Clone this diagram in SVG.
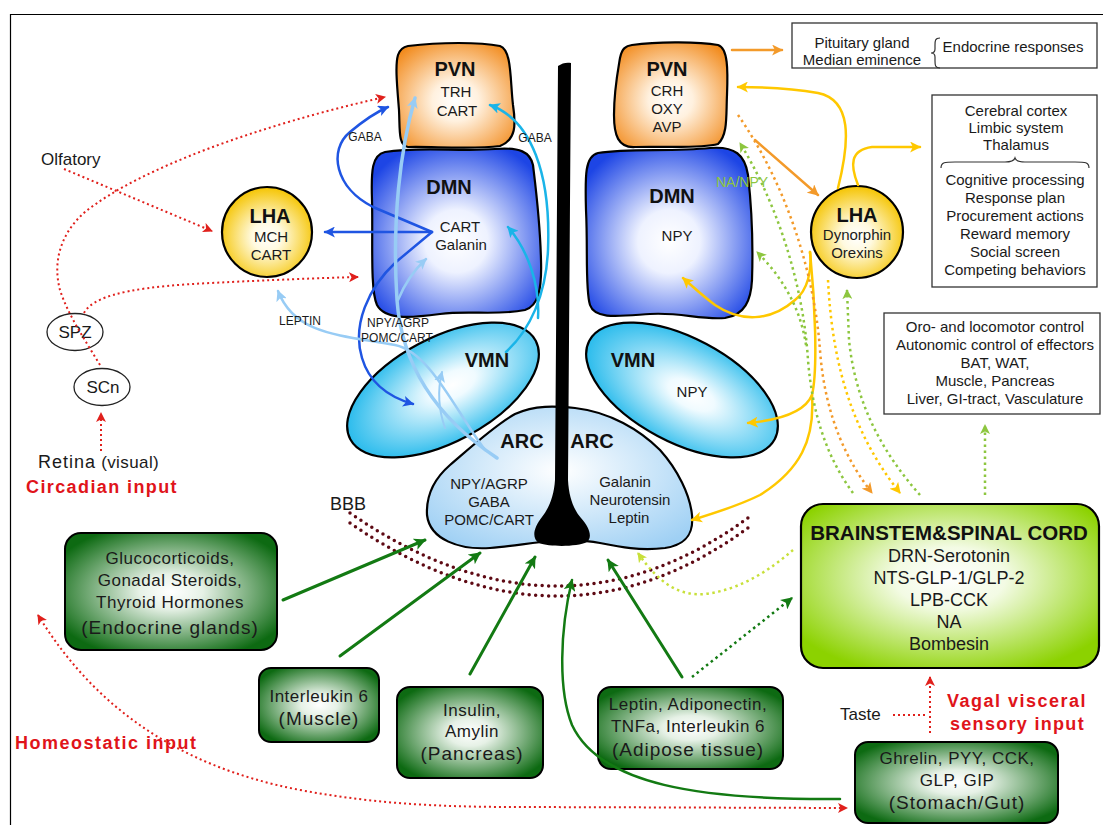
<svg xmlns="http://www.w3.org/2000/svg" width="1103" height="825" viewBox="0 0 1103 825">
<style>
text{font-family:"Liberation Sans",Arial,sans-serif;fill:#1a1a1a;text-anchor:middle}
.ttl{font-weight:bold;font-size:20px;fill:#111}
.s15{font-size:15px}
.s12{font-size:12px}
.b17{font-size:17px;letter-spacing:0.5px}
.b19{font-size:19px;letter-spacing:1px}
.red{font-weight:bold;font-size:18px;fill:#e0141a;text-anchor:start;letter-spacing:1.4px}
.shape{stroke:#000;stroke-width:2.2}
.box{fill:#fff;stroke:#333;stroke-width:1.3}
.c{fill:none;stroke-linecap:round}
.rd{stroke:#e0201c;stroke-width:2;stroke-dasharray:2 3;stroke-linecap:butt;fill:none}
.db{stroke:#1f55e2;stroke-width:2.5}
.lb{stroke:#98ccf5;stroke-width:2.5}
.cy{stroke:#1ab4e8;stroke-width:2.5}
.or{stroke:#f39a2a;stroke-width:2.5}
.ye{stroke:#ffc800;stroke-width:2.5}
.gs{stroke:#137a13;stroke-width:3}
.dot{fill:none;stroke-width:2.5;stroke-dasharray:2.5 3.5;stroke-linecap:butt}
.bbb{fill:none;stroke:#5e0a14;stroke-width:3.5;stroke-dasharray:0 6.5;stroke-linecap:round}
</style>
<defs>
<radialGradient id="gOr" cx="50%" cy="55%" r="65%"><stop offset="0" stop-color="#ffffff"/><stop offset="0.3" stop-color="#fff1df"/><stop offset="1" stop-color="#f28b1d"/></radialGradient>
<radialGradient id="gBl" cx="50%" cy="55%" r="62%"><stop offset="0" stop-color="#ffffff"/><stop offset="0.3" stop-color="#eef2ff"/><stop offset="1" stop-color="#1d45e5"/></radialGradient>
<radialGradient id="gCy" cx="55%" cy="50%" r="60%"><stop offset="0" stop-color="#ffffff"/><stop offset="0.2" stop-color="#f0fbff"/><stop offset="1" stop-color="#13b4ea"/></radialGradient>
<radialGradient id="gArc" cx="50%" cy="45%" r="65%"><stop offset="0" stop-color="#ffffff"/><stop offset="1" stop-color="#9fd0f4"/></radialGradient>
<radialGradient id="gYe" cx="50%" cy="55%" r="55%"><stop offset="0" stop-color="#ffffff"/><stop offset="0.3" stop-color="#fffae0"/><stop offset="1" stop-color="#f5c400"/></radialGradient>
<radialGradient id="gGr" cx="50%" cy="50%" r="60%"><stop offset="0" stop-color="#ffffff"/><stop offset="0.25" stop-color="#e6f1e6"/><stop offset="1" stop-color="#0d6a12"/></radialGradient>
<radialGradient id="gLi" cx="50%" cy="45%" r="62%"><stop offset="0" stop-color="#ffffff"/><stop offset="0.3" stop-color="#f3fbe4"/><stop offset="1" stop-color="#8cd200"/></radialGradient>
<marker id="mRed" viewBox="0 0 10 10" refX="9" refY="5" markerWidth="10" markerHeight="10" markerUnits="userSpaceOnUse" orient="auto-start-reverse"><path d="M0,0 L10,5 L0,10 L2.5,5 z" fill="#e0201c"/></marker>
<marker id="mDb" viewBox="0 0 10 10" refX="9" refY="5" markerWidth="11" markerHeight="11" markerUnits="userSpaceOnUse" orient="auto"><path d="M0,0 L10,5 L0,10 L2.5,5 z" fill="#1f55e2"/></marker>
<marker id="mLb" viewBox="0 0 10 10" refX="9" refY="5" markerWidth="11" markerHeight="11" markerUnits="userSpaceOnUse" orient="auto"><path d="M0,0 L10,5 L0,10 L2.5,5 z" fill="#98ccf5"/></marker>
<marker id="mCy" viewBox="0 0 10 10" refX="9" refY="5" markerWidth="11" markerHeight="11" markerUnits="userSpaceOnUse" orient="auto"><path d="M0,0 L10,5 L0,10 L2.5,5 z" fill="#1ab4e8"/></marker>
<marker id="mOr" viewBox="0 0 10 10" refX="9" refY="5" markerWidth="11" markerHeight="11" markerUnits="userSpaceOnUse" orient="auto"><path d="M0,0 L10,5 L0,10 L2.5,5 z" fill="#f39a2a"/></marker>
<marker id="mYe" viewBox="0 0 10 10" refX="9" refY="5" markerWidth="11" markerHeight="11" markerUnits="userSpaceOnUse" orient="auto"><path d="M0,0 L10,5 L0,10 L2.5,5 z" fill="#ffc800"/></marker>
<marker id="mGn" viewBox="0 0 10 10" refX="9" refY="5" markerWidth="10" markerHeight="10" markerUnits="userSpaceOnUse" orient="auto"><path d="M0,0 L10,5 L0,10 L2.5,5 z" fill="#8dc63f"/></marker>
<marker id="mLg" viewBox="0 0 10 10" refX="9" refY="5" markerWidth="10" markerHeight="10" markerUnits="userSpaceOnUse" orient="auto"><path d="M0,0 L10,5 L0,10 L2.5,5 z" fill="#c8e03a"/></marker>
<marker id="mDg" viewBox="0 0 10 10" refX="9" refY="5" markerWidth="12" markerHeight="12" markerUnits="userSpaceOnUse" orient="auto"><path d="M0,0 L10,5 L0,10 L2.5,5 z" fill="#137a13"/></marker>
</defs>
<rect width="1103" height="825" fill="#fff"/>
<path d="M10.5,825 V14.5 H1103" fill="none" stroke="#000" stroke-width="1.2"/>

<g id="pvn-left"><path class="shape" fill="url(#gOr)" d="M408,46 C440,42 480,42 500,46 C512,50 510,80 513,105 C516,125 516,140 500,146 C470,150 430,146 408,147 C398,145 400,130 399,110 C397,85 395,65 398,55 C400,49 403,47 408,46 Z"/>
<text x="455" y="76" class="ttl">PVN</text><text x="456" y="97" class="s15">TRH</text><text x="457" y="116" class="s15">CART</text></g>

<g id="pvn-right"><path class="shape" fill="url(#gOr)" d="M632,45 C660,41 700,42 718,45 C728,48 728,70 727,95 C726,115 728,135 718,144 C700,149 660,146 635,147 C618,148 614,135 614,115 C614,90 618,70 620,58 C622,48 626,46 632,45 Z"/>
<text x="667" y="76" class="ttl">PVN</text><text x="667" y="96" class="s15">CRH</text><text x="667" y="114" class="s15">OXY</text><text x="667" y="132" class="s15">AVP</text></g>

<g id="dmn-left"><path class="shape" fill="url(#gBl)" d="M385,152 C420,146 460,152 495,149 C520,147 530,152 533,165 C536,190 540,220 541,260 C542,290 538,306 525,310 C495,316 470,310 440,314 C410,318 385,320 377,305 C370,290 373,240 372,200 C371,170 372,155 385,152 Z"/>
<text x="449" y="194" class="ttl">DMN</text><text x="460" y="232" class="s15">CART</text><text x="461" y="250" class="s15">Galanin</text></g>

<g id="dmn-right"><path class="shape" fill="url(#gBl)" d="M598,153 C630,148 670,152 710,148 C735,146 745,155 748,175 C752,210 753,250 752,280 C751,300 745,315 725,318 C700,320 680,312 650,314 C620,316 595,320 590,305 C585,290 588,250 586,210 C585,175 585,156 598,153 Z"/>
<text x="672" y="203" class="ttl">DMN</text><text x="677" y="241" class="s15">NPY</text></g>

<g id="vmn-left"><ellipse class="shape" fill="url(#gCy)" cx="443" cy="390" rx="105" ry="52" transform="rotate(-28 443 390)"/>
<text x="487" y="367" class="ttl">VMN</text></g>

<g id="vmn-right"><ellipse class="shape" fill="url(#gCy)" cx="682" cy="390" rx="105" ry="52" transform="rotate(28 682 390)"/>
<text x="633" y="367" class="ttl">VMN</text><text x="692" y="397" class="s15">NPY</text></g>

<g id="arc"><path class="shape" fill="url(#gArc)" d="M427,515 C426,495 435,478 450,465 C470,448 495,425 515,414 C535,405 555,406 575,408 C610,412 640,430 660,450 C678,470 690,495 692,515 C694,535 685,545 665,548 C640,551 620,547 600,543 C585,540 570,540 555,541 C535,542 515,546 490,548 C460,550 430,540 427,515 Z"/>
<text x="522" y="448" class="ttl">ARC</text><text x="592" y="448" class="ttl">ARC</text>
<text x="489" y="489" class="s15">NPY/AGRP</text><text x="489" y="507" class="s15">GABA</text><text x="489" y="525" class="s15">POMC/CART</text>
<text x="625" y="487" class="s15">Galanin</text><text x="630" y="505" class="s15">Neurotensin</text><text x="629" y="523" class="s15">Leptin</text></g>

<g id="ventricle"><path fill="#000" d="M558,66 C562,63 567,62 571,63 L568,480 C569,498 574,510 581,518 C589,527 593,537 587,542 C577,547 550,547 539,543 C531,538 534,527 542,517 C549,508 554,496 555,480 Z"/></g>

<g id="lha-left"><circle class="shape" fill="url(#gYe)" cx="267" cy="232" r="45"/>
<text x="270" y="223" class="ttl">LHA</text><text x="271" y="242" class="s15">MCH</text><text x="271" y="260" class="s15">CART</text></g>

<g id="lha-right"><circle class="shape" fill="url(#gYe)" cx="857" cy="232" r="46"/>
<text x="857" y="222" class="ttl">LHA</text><text x="857" y="240" class="s15">Dynorphin</text><text x="857" y="258" class="s15">Orexins</text></g>

<g id="spz"><ellipse cx="75" cy="332" rx="28" ry="18.5" fill="#fff" stroke="#222" stroke-width="1.3"/><text x="75" y="338" style="font-size:17px">SPZ</text></g>
<g id="scn"><ellipse cx="102" cy="387" rx="28" ry="18.5" fill="#fff" stroke="#222" stroke-width="1.3"/><text x="103" y="393" style="font-size:17px">SCn</text></g>

<g id="box-pituitary"><rect class="box" x="792" y="23" width="305" height="45"/>
<text x="862" y="48" class="s15">Pituitary gland</text><text x="862" y="65" class="s15">Median eminence</text>
<path d="M940,38 C935,38 935,41 935,45 L935,49 C935,52 934,53 931,53 C934,53 935,54 935,57 L935,61 C935,65 935,68 940,68" fill="none" stroke="#333" stroke-width="1.2"/>
<text x="1013" y="52" class="s15">Endocrine responses</text></g>

<g id="box-cortex"><rect class="box" x="932" y="95" width="165" height="192"/>
<text x="1016" y="116" class="s15">Cerebral cortex</text><text x="1016" y="133" class="s15">Limbic system</text><text x="1016" y="150" class="s15">Thalamus</text>
<path d="M941,168 C941,162 945,162 955,162 L1005,162 C1011,162 1014,161 1015,158 C1016,161 1019,162 1025,162 L1075,162 C1085,162 1089,162 1089,168" fill="none" stroke="#333" stroke-width="1.2"/>
<text x="1015" y="185" class="s15">Cognitive processing</text><text x="1015" y="203" class="s15">Response plan</text><text x="1015" y="221" class="s15">Procurement actions</text><text x="1015" y="239" class="s15">Reward memory</text><text x="1015" y="257" class="s15">Social screen</text><text x="1015" y="275" class="s15">Competing behaviors</text></g>

<g id="box-motor"><rect class="box" x="884" y="313" width="216" height="101"/>
<text x="995" y="332" class="s15">Oro- and locomotor control</text><text x="995" y="350" class="s15">Autonomic control of effectors</text><text x="995" y="368" class="s15">BAT, WAT,</text><text x="995" y="386" class="s15">Muscle, Pancreas</text><text x="995" y="404" class="s15">Liver, GI-tract, Vasculature</text></g>

<g id="brainstem"><rect x="801" y="504" width="298" height="164" rx="22" fill="url(#gLi)" stroke="#000" stroke-width="2.2"/>
<text x="949" y="540" style="font-weight:bold;font-size:20.5px;fill:#111">BRAINSTEM&amp;SPINAL CORD</text>
<text x="949" y="562" style="font-size:18px">DRN-Serotonin</text><text x="949" y="584" style="font-size:18px">NTS-GLP-1/GLP-2</text><text x="949" y="606" style="font-size:18px">LPB-CCK</text><text x="949" y="628" style="font-size:18px">NA</text><text x="949" y="650" style="font-size:18px">Bombesin</text></g>

<g id="endocrine"><rect x="65" y="533" width="212" height="117" rx="16" fill="url(#gGr)" stroke="#000" stroke-width="2"/>
<text x="170" y="564" class="b17">Glucocorticoids,</text><text x="170" y="586" class="b17">Gonadal Steroids,</text><text x="170" y="608" class="b17">Thyroid Hormones</text><text x="170" y="634" class="b19">(Endocrine glands)</text></g>

<g id="muscle"><rect x="259" y="668" width="120" height="74" rx="12" fill="url(#gGr)" stroke="#000" stroke-width="2"/>
<text x="319" y="702" class="b17">Interleukin 6</text><text x="319" y="725" class="b19">(Muscle)</text></g>

<g id="pancreas"><rect x="397" y="687" width="146" height="91" rx="13" fill="url(#gGr)" stroke="#000" stroke-width="2"/>
<text x="472" y="716" class="b17">Insulin,</text><text x="472" y="737" class="b17">Amylin</text><text x="472" y="760" class="b19">(Pancreas)</text></g>

<g id="adipose"><rect x="598" y="687" width="185" height="82" rx="13" fill="url(#gGr)" stroke="#000" stroke-width="2"/>
<text x="688" y="710" class="b17">Leptin, Adiponectin,</text><text x="688" y="732" class="b17">TNFa, Interleukin 6</text><text x="688" y="756" class="b19">(Adipose tissue)</text></g>

<g id="gut"><rect x="855" y="742" width="203" height="81" rx="13" fill="url(#gGr)" stroke="#000" stroke-width="2"/>
<text x="957" y="764" class="b17">Ghrelin, PYY, CCK,</text><text x="957" y="786" class="b17">GLP, GIP</text><text x="957" y="809" class="b19">(Stomach/Gut)</text></g>

<g id="connectors">
<path class="bbb" d="M350,513 Q560,658 752,515"/>
<path class="bbb" d="M350,523 Q560,668 752,525"/>
<path class="rd" d="M64,169 L212,231" marker-end="url(#mRed)"/>
<path class="rd" d="M100,365 C85,340 68,315 60,290 C52,260 62,232 85,212 C140,168 260,125 385,97" marker-end="url(#mRed)"/>
<path class="rd" d="M84,313 C95,292 150,286 210,283 C270,280 320,278 358,277" marker-end="url(#mRed)"/>
<path class="rd" d="M38,615 C90,700 170,765 300,790 C380,805 450,807 520,807 L847,808" marker-start="url(#mRed)" marker-end="url(#mRed)"/>
<path class="rd" d="M101,451 L101,413" marker-end="url(#mRed)"/>
<path class="rd" d="M893,715 L928,715"/>
<path class="rd" d="M930,733 L930,677" marker-end="url(#mRed)"/>
<path class="c db" d="M432,232 L325,232" marker-end="url(#mDb)"/>
<path class="c db" d="M432,232 L373,207 C335,188 328,150 350,132 C362,122 374,113 388,107" marker-end="url(#mDb)"/>
<path class="c db" d="M432,232 L396,262 C368,288 352,325 362,358 C370,385 392,398 413,404" marker-end="url(#mDb)"/>
<path class="c lb" style="stroke-width:3.5" d="M497,458 C440,420 402,370 397,300 C392,220 400,150 415,98" marker-end="url(#mLb)"/>
<path class="c lb" d="M485,450 C455,410 430,352 395,345 C340,335 295,335 278,291" marker-end="url(#mLb)"/>
<path class="c lb" d="M398,300 C405,283 414,270 426,259" marker-end="url(#mLb)"/>
<path class="c lb" style="stroke-width:2" d="M445,428 C437,405 438,388 442,372" marker-end="url(#mLb)"/>
<path class="c cy" d="M506,352 C530,330 546,295 548,250 C551,175 532,120 490,105" marker-end="url(#mCy)"/>
<path class="c cy" d="M538,318 C540,285 528,250 508,227" marker-end="url(#mCy)"/>
<path class="c or" d="M732,50 L782,50" marker-end="url(#mOr)"/>
<path class="c or" d="M755,140 L818,195" marker-end="url(#mOr)"/>
<path class="c ye" d="M838,188 C850,140 852,100 818,93 C790,88 765,87 738,87" marker-end="url(#mYe)"/>
<path class="c ye" d="M858,185 C850,165 850,150 872,147 L920,147" marker-end="url(#mYe)"/>
<path class="c ye" d="M810,252 C812,270 808,290 795,300 C770,322 740,322 715,305 C703,296 693,287 683,278" marker-end="url(#mYe)"/>
<path class="c ye" d="M810,252 C815,300 818,370 812,395 C805,412 780,420 748,423" marker-end="url(#mYe)"/>
<path class="c ye" d="M812,395 C815,440 800,470 760,495 C740,505 715,513 692,520" marker-end="url(#mYe)"/>
<path class="dot" stroke="#f39a2a" d="M738,115 C790,190 815,280 820,350 C825,420 850,465 872,493" marker-end="url(#mOr)"/>
<path class="dot" stroke="#8dc63f" d="M853,493 C825,455 812,410 808,360 C803,280 775,200 740,143" marker-end="url(#mGn)"/>
<path class="dot" stroke="#8dc63f" d="M806,345 C800,305 780,275 757,252" marker-end="url(#mGn)"/>
<path class="dot" stroke="#ffc800" d="M828,280 C832,360 850,430 900,493" marker-end="url(#mYe)"/>
<path class="dot" stroke="#8dc63f" d="M920,495 C880,450 855,400 849,340 L847,290" marker-end="url(#mGn)"/>
<path class="dot" stroke="#8dc63f" d="M985,495 L985,425" marker-end="url(#mGn)"/>
<path class="dot" stroke="#c8e03a" d="M793,550 C770,570 740,590 705,594 C680,596 660,585 638,553" marker-end="url(#mLg)"/>
<path class="dot" stroke="#137a13" d="M692,677 L792,598" marker-end="url(#mDg)"/>
<path class="c gs" d="M283,600 L425,540" marker-end="url(#mDg)"/>
<path class="c gs" d="M340,656 L480,553" marker-end="url(#mDg)"/>
<path class="c gs" d="M470,674 L535,557" marker-end="url(#mDg)"/>
<path class="c gs" style="stroke-width:2.5" d="M840,799 C700,800 600,785 572,725 C558,690 560,630 572,580" marker-end="url(#mDg)"/>
<path class="c gs" d="M682,677 L608,560" marker-end="url(#mDg)"/>
</g>

<g id="labels">
<text x="365" y="141" class="s12">GABA</text>
<text x="535" y="142" class="s12">GABA</text>
<text x="300" y="325" class="s12">LEPTIN</text>
<text x="398" y="327" class="s12">NPY/AGRP</text>
<text x="397" y="342" class="s12">POMC/CART</text>
<text x="742" y="187" style="font-size:14px;fill:#8dc63f">NA/NPY</text>
<text x="41" y="165" style="font-size:17px;text-anchor:start">Olfatory</text>
<text x="38" y="468" style="text-anchor:start"><tspan style="font-size:18px;letter-spacing:1px">Retina</tspan><tspan style="font-size:17px;letter-spacing:0.4px"> (visual)</tspan></text>
<text x="26" y="493" class="red">Circadian input</text>
<text x="330" y="510" style="font-size:18px;text-anchor:start">BBB</text>
<text x="15" y="749" class="red" style="letter-spacing:1.5px">Homeostatic input</text>
<text x="840" y="720" style="font-size:17px;text-anchor:start">Taste</text>
<text x="947" y="707" class="red" style="letter-spacing:1.5px">Vagal visceral</text>
<text x="950" y="730" class="red" style="letter-spacing:1.3px">sensory input</text>
</g>
</svg>
